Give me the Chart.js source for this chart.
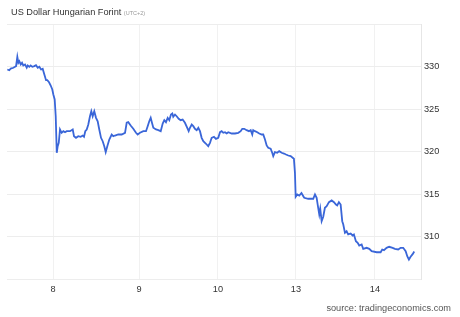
<!DOCTYPE html>
<html>
<head>
<meta charset="utf-8">
<script src="https://cdn.jsdelivr.net/npm/chart.js@4/dist/chart.umd.min.js"></script>
<style>
  html, body { margin: 0; padding: 0; background: #fff; }
  #wrap { position: relative; width: 460px; height: 317px; }
  #title { position: absolute; left: 11px; top: 7px; font: 9.2px "Liberation Sans", Arial, sans-serif; color: #333; white-space: nowrap; }
  #title small { font-size: 5.5px; color: #999; }
  #source { position: absolute; right: 9px; top: 303px; font: 9.2px "Liberation Sans", Arial, sans-serif; color: #555; white-space: nowrap; }
</style>
</head>
<body>
<div id="wrap">
  <canvas id="fxChart" width="460" height="317"></canvas>
  <div id="title">US Dollar Hungarian Forint <small>(UTC+2)</small></div>
  <div id="source">source: tradingeconomics.com</div>
</div>
<script>
// x is measured in trading sessions from the start of day 8
const sessionX = [
  -0.575, -0.550, -0.532, -0.499, -0.478, -0.465, -0.449, -0.436, -0.424, -0.406,
  -0.390, -0.374, -0.352, -0.331, -0.318, -0.298, -0.281, -0.260, -0.235, -0.214,
  -0.192, -0.172, -0.151, -0.130, -0.109, -0.088, -0.072, -0.050, -0.029, -0.009,
  0.004, 0.021, 0.034, 0.047, 0.059, 0.072, 0.088, 0.109, 0.130, 0.151,
  0.172, 0.214, 0.248, 0.264, 0.289, 0.318, 0.348, 0.374, 0.390, 0.406,
  0.424, 0.444, 0.465, 0.482, 0.499, 0.519, 0.541, 0.562, 0.582, 0.604,
  0.625, 0.645, 0.663, 0.683, 0.708, 0.738, 0.758, 0.780, 0.821, 0.864,
  0.906, 0.927, 0.947, 0.977, 1.010, 1.044, 1.065, 1.094, 1.136, 1.170,
  1.191, 1.211, 1.229, 1.245, 1.262, 1.296, 1.325, 1.355, 1.380, 1.400,
  1.421, 1.443, 1.463, 1.484, 1.501, 1.513, 1.535, 1.556, 1.581, 1.606,
  1.631, 1.660, 1.689, 1.707, 1.723, 1.745, 1.765, 1.786, 1.808, 1.828,
  1.849, 1.870, 1.891, 1.925, 1.953, 1.975, 1.996, 2.025, 2.050, 2.079,
  2.101, 2.122, 2.142, 2.164, 2.185, 2.205, 2.248, 2.289, 2.331, 2.361,
  2.381, 2.406, 2.436, 2.465, 2.487, 2.507, 2.519, 2.541, 2.570, 2.595,
  2.625, 2.645, 2.667, 2.688, 2.708, 2.738, 2.758, 2.771, 2.792, 2.821,
  2.846, 2.877, 2.906, 2.931, 2.960, 2.990, 3.015, 3.031, 3.044, 3.053,
  3.073, 3.098, 3.126, 3.151, 3.161, 3.211, 3.274, 3.296, 3.317, 3.330,
  3.350, 3.362, 3.380, 3.400, 3.421, 3.443, 3.472, 3.506, 3.535, 3.560,
  3.576, 3.597, 3.619, 3.639, 3.652, 3.673, 3.694, 3.714, 3.745, 3.770,
  3.786, 3.811, 3.833, 3.853, 3.883, 3.903, 3.946, 3.979, 4.009, 4.072,
  4.122, 4.142, 4.164, 4.197, 4.230, 4.273, 4.302, 4.343, 4.374, 4.406,
  4.437, 4.457, 4.478, 4.499, 4.525, 4.545
];

const usdHuf = [
  329.65, 329.56, 329.76, 329.85, 329.96, 330.04, 331.14, 330.44, 330.62, 330.24,
  330.44, 330.12, 330.24, 329.85, 330.12, 329.96, 330.12, 329.96, 330.04, 330.15,
  329.85, 329.96, 329.65, 329.73, 329.06, 328.39, 328.39, 328.15, 327.76, 327.29,
  326.71, 326.12, 324.15, 319.85, 320.62, 321.02, 322.59, 322.20, 322.39, 322.27,
  322.39, 322.39, 322.59, 321.80, 321.61, 321.80, 321.73, 321.88, 321.73, 322.39,
  322.59, 323.18, 324.15, 324.74, 324.15, 324.74, 323.96, 323.56, 322.59, 321.61,
  321.21, 320.62, 319.92, 320.62, 321.41, 322.00, 321.80, 321.88, 322.00, 322.00,
  322.20, 323.38, 323.45, 323.06, 322.67, 322.20, 322.00, 322.20, 322.39, 322.39,
  322.98, 323.56, 323.96, 323.38, 322.79, 322.59, 322.51, 322.39, 323.29, 323.68,
  323.45, 323.96, 323.68, 324.35, 324.47, 324.08, 324.35, 324.15, 323.85, 323.68,
  323.76, 323.38, 322.79, 322.39, 322.79, 323.18, 322.98, 322.67, 322.51, 322.79,
  322.39, 321.61, 321.21, 320.91, 320.62, 321.02, 321.61, 321.73, 321.49, 321.61,
  322.27, 322.39, 322.20, 322.27, 322.12, 322.27, 322.12, 322.12, 322.20, 322.39,
  322.67, 322.67, 322.51, 322.39, 322.51, 322.00, 322.51, 322.39, 322.27, 322.12,
  322.00, 322.00, 321.41, 320.71, 320.44, 320.32, 319.85, 319.45, 319.92, 319.85,
  320.04, 319.85, 319.76, 319.65, 319.53, 319.45, 319.26, 319.14, 317.49, 314.67,
  314.94, 314.82, 315.12, 314.71, 314.55, 314.44, 314.44, 314.94, 314.55, 313.76,
  312.59, 313.26, 311.80, 312.32, 313.38, 313.56, 314.04, 314.24, 314.04, 313.76,
  313.65, 314.04, 313.76, 311.80, 311.41, 310.44, 310.62, 310.24, 310.35, 310.12,
  310.24, 309.45, 309.26, 308.94, 309.06, 308.55, 308.67, 308.55, 308.27, 308.15,
  308.15, 308.47, 308.39, 308.67, 308.79, 308.67, 308.55, 308.47, 308.67, 308.67,
  308.27, 307.68, 307.29, 307.61, 307.92, 308.24
];

// day labels and where each session starts on the x scale
const dayLabels = ['8', '9', '10', '13', '14'];
const dayTickPos = [0, 1.082, 2.075, 3.057, 4.05];
const yTicks = [305, 310, 315, 320, 325, 330, 335];
const yShown = [310, 315, 320, 325, 330];

const points = sessionX.map((x, i) => ({ x: x, y: usdHuf[i] }));

new Chart(document.getElementById('fxChart'), {
    type: 'line',
    data: {
        datasets: [{
            data: points,
            borderColor: '#3a66d8',
            borderWidth: 1.8,
            pointRadius: 0,
            tension: 0,
            fill: false
        }]
    },
    options: {
        responsive: false,
        animation: false,
        layout: { padding: { top: 24, left: 7, right: 0, bottom: 0 } },
        plugins: {
            legend: { display: false },
            tooltip: { enabled: false }
        },
        scales: {
            x: {
                type: 'linear',
                min: -0.579,
                max: 4.63,
                afterBuildTicks: (scale) => {
                    scale.ticks = dayTickPos.map(v => ({ value: v }));
                },
                afterFit: (scale) => { scale.height = 38; },
                ticks: {
                    autoSkip: false,
                    maxRotation: 0,
                    padding: 5,
                    color: '#333',
                    font: { family: 'Liberation Sans, Arial, sans-serif', size: 9.2 },
                    callback: (v) => {
                        const i = dayTickPos.indexOf(v);
                        return i >= 0 ? dayLabels[i] : '';
                    }
                },
                grid: { color: '#f1f1f1', drawTicks: false },
                border: { display: false }
            },
            y: {
                position: 'right',
                min: 305,
                max: 335,
                afterBuildTicks: (scale) => {
                    scale.ticks = yTicks.map(v => ({ value: v }));
                },
                afterFit: (scale) => { scale.width = 39; },
                ticks: {
                    padding: 3,
                    color: '#333',
                    font: { family: 'Liberation Sans, Arial, sans-serif', size: 9.2 },
                    callback: (v) => yShown.includes(v) ? String(v) : ''
                },
                grid: { color: '#ededed', drawTicks: false },
                border: { display: true, color: '#e6e6e6' }
            }
        }
    }
});
</script>
</body>
</html>
